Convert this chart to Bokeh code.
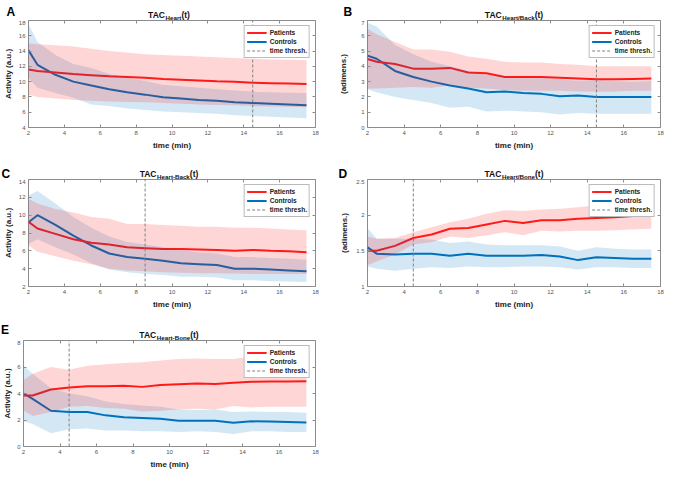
from bokeh.plotting import figure
from bokeh.models import (Range1d, FixedTicker, LinearAxis, Label, Legend, LegendItem,
                          CustomJSTickFormatter)
from bokeh.layouts import column, row
from bokeh.embed import file_html
from bokeh.resources import INLINE

# ---------------- data ----------------
time_min = [2, 2.5, 3.5, 4.5, 5.5, 6.5, 7.5, 8.5, 9.5, 10.5, 11.5, 12.5, 13.5, 14.5, 15.5, 16.5, 17.5]
x_ticks = [2, 4, 6, 8, 10, 12, 14, 16, 18]

# Panel A: TAC Heart
a_pat_mean = [11.6, 11.4, 11.2, 11.0, 10.85, 10.7, 10.6, 10.5, 10.35, 10.25, 10.15, 10.05, 10.0, 9.85, 9.8, 9.75, 9.7]
a_pat_up = [15.0, 14.9, 14.75, 14.6, 14.3, 14.0, 13.8, 13.6, 13.5, 13.4, 13.3, 13.2, 13.1, 13.0, 12.9, 12.85, 12.8]
a_pat_lo = [8.3, 8.0, 7.8, 7.6, 7.5, 7.4, 7.35, 7.3, 7.2, 7.1, 7.0, 6.95, 6.9, 6.8, 6.75, 6.7, 6.65]
a_con_mean = [14.1, 12.2, 10.9, 10.0, 9.5, 9.0, 8.6, 8.3, 7.95, 7.8, 7.6, 7.5, 7.3, 7.2, 7.1, 7.0, 6.9]
a_con_up = [17.5, 15.2, 13.5, 12.3, 11.8, 11.0, 10.5, 10.1, 9.6, 9.4, 9.2, 9.0, 8.85, 8.7, 8.6, 8.55, 8.5]
a_con_lo = [10.5, 9.2, 8.5, 7.9, 7.0, 6.8, 6.5, 6.3, 6.1, 6.0, 5.9, 5.8, 5.6, 5.5, 5.4, 5.3, 5.2]
a_thresh = 14.5
a_y_ticks = [4, 6, 8, 10, 12, 14, 16, 18]
a_y_labels = ["4", "6", "8", "10", "12", "14", "16", "18"]

# Panel B: TAC Heart/Back
b_pat_mean = [4.48, 4.3, 4.15, 3.85, 3.85, 3.9, 3.6, 3.55, 3.3, 3.3, 3.3, 3.25, 3.2, 3.15, 3.15, 3.18, 3.2]
b_pat_up = [6.45, 6.1, 5.6, 5.1, 5.1, 4.95, 4.65, 4.5, 4.3, 4.25, 4.25, 4.15, 4.1, 4.0, 4.0, 4.0, 4.0]
b_pat_lo = [2.55, 2.55, 2.6, 2.65, 2.6, 2.75, 2.6, 2.55, 2.45, 2.4, 2.4, 2.4, 2.35, 2.35, 2.35, 2.4, 2.4]
b_con_mean = [4.7, 4.5, 3.7, 3.3, 3.0, 2.75, 2.55, 2.3, 2.35, 2.25, 2.2, 2.05, 2.1, 2.0, 2.0, 2.0, 2.0]
b_con_up = [6.85, 6.6, 5.4, 4.8, 4.3, 4.0, 3.7, 3.45, 3.35, 3.3, 3.25, 3.15, 3.05, 3.1, 3.05, 3.0, 3.05]
b_con_lo = [2.5, 2.3, 2.0, 1.8, 1.6, 1.3, 1.35, 1.05, 1.1, 1.05, 1.0, 0.85, 0.95, 0.9, 0.9, 0.9, 0.9]
b_thresh = 14.5
b_y_ticks = [0, 1, 2, 3, 4, 5, 6, 7]
b_y_labels = ["0", "1", "2", "3", "4", "5", "6", "7"]

# Panel C: TAC Heart-Back
c_pat_mean = [9.25, 8.5, 7.9, 7.3, 6.9, 6.7, 6.4, 6.3, 6.2, 6.2, 6.15, 6.1, 6.0, 6.1, 6.0, 5.95, 5.85]
c_pat_up = [11.8, 11.3, 10.7, 10.3, 9.8, 9.6, 9.0, 9.0, 8.9, 8.8, 8.7, 8.7, 8.6, 8.6, 8.5, 8.4, 8.3]
c_pat_lo = [6.6, 5.9, 5.4, 4.9, 4.5, 4.0, 3.8, 3.7, 3.6, 3.55, 3.5, 3.5, 3.45, 3.4, 3.4, 3.4, 3.4]
c_con_mean = [9.2, 10.0, 8.9, 7.7, 6.6, 5.7, 5.3, 5.1, 4.9, 4.6, 4.5, 4.4, 4.0, 4.0, 3.9, 3.8, 3.7]
c_con_up = [12.2, 12.7, 11.3, 9.8, 8.6, 7.6, 7.0, 6.7, 6.4, 6.1, 5.8, 5.7, 5.3, 5.3, 5.2, 5.1, 5.0]
c_con_lo = [6.8, 7.3, 6.4, 5.6, 4.6, 3.9, 3.6, 3.4, 3.3, 3.1, 3.1, 3.0, 2.7, 2.7, 2.6, 2.55, 2.5]
c_thresh = 8.5
c_y_ticks = [2, 4, 6, 8, 10, 12, 14]
c_y_labels = ["2", "4", "6", "8", "10", "12", "14"]

# Panel D: TAC Heart/Bone
d_pat_mean = [1.5, 1.5, 1.57, 1.68, 1.73, 1.81, 1.82, 1.87, 1.92, 1.89, 1.93, 1.93, 1.95, 1.96, 1.97, 1.99, 2.01]
d_pat_up = [1.7, 1.67, 1.68, 1.76, 1.83, 1.9, 1.95, 2.02, 2.07, 2.06, 2.08, 2.09, 2.11, 2.14, 2.15, 2.17, 2.2]
d_pat_lo = [1.3, 1.35, 1.45, 1.59, 1.62, 1.7, 1.68, 1.72, 1.76, 1.72, 1.78, 1.77, 1.78, 1.78, 1.79, 1.8, 1.81]
d_con_mean = [1.55, 1.46, 1.45, 1.46, 1.46, 1.43, 1.46, 1.43, 1.43, 1.43, 1.44, 1.42, 1.37, 1.41, 1.4, 1.39, 1.39]
d_con_up = [1.82, 1.67, 1.67, 1.67, 1.66, 1.61, 1.63, 1.59, 1.58, 1.58, 1.58, 1.56, 1.5, 1.55, 1.53, 1.52, 1.52]
d_con_lo = [1.28, 1.25, 1.22, 1.25, 1.27, 1.26, 1.28, 1.27, 1.27, 1.28, 1.28, 1.27, 1.24, 1.27, 1.27, 1.26, 1.26]
d_thresh = 4.5
d_y_ticks = [1, 1.5, 2, 2.5]
d_y_labels = ["1", "1.5", "2", "2.5"]

# Panel E: TAC Heart-Bone
e_pat_mean = [3.85, 3.85, 4.3, 4.45, 4.55, 4.55, 4.58, 4.5, 4.65, 4.7, 4.75, 4.72, 4.82, 4.88, 4.9, 4.9, 4.92]
e_pat_up = [5.0, 5.5, 6.0, 5.8, 6.1, 6.2, 6.3, 6.35, 6.5, 6.6, 6.65, 6.6, 6.6, 6.8, 6.8, 6.85, 6.85]
e_pat_lo = [2.7, 2.3, 2.6, 3.0, 3.05, 2.9, 2.85, 2.65, 2.7, 2.8, 2.85, 2.8, 3.05, 2.95, 3.0, 3.0, 3.0]
e_con_mean = [4.0, 3.6, 2.7, 2.6, 2.6, 2.35, 2.2, 2.15, 2.1, 1.95, 1.95, 1.95, 1.8, 1.9, 1.88, 1.85, 1.82]
e_con_up = [6.1, 5.5, 4.4, 4.0, 3.8, 3.4, 3.2, 3.1, 3.0, 2.8, 2.75, 2.8, 2.6, 2.65, 2.6, 2.6, 2.55]
e_con_lo = [1.9, 1.7, 1.0, 1.3, 1.35, 1.2, 1.2, 1.15, 1.15, 1.1, 1.15, 1.1, 0.95, 1.15, 1.15, 1.1, 1.1]
e_thresh = 4.5
e_y_ticks = [0, 2, 4, 6, 8]
e_y_labels = ["0", "2", "4", "6", "8"]

series_names = ["Patients", "Controls", "time thresh."]
x_label = "time (min)"

# ---------------- styling ----------------
FONT = "Liberation Sans"
RED = "#ff1f1f"
BLUE = "#0072BD"
BOXC = "#8c8c8c"
FRAME_W = 293
FRAME_H = 107

# Arial/Liberation Sans Bold advance widths (per 1000 em)
_W = {"T": 611, "A": 722, "C": 722, "H": 722, "e": 556, "a": 556, "r": 389, "t": 333,
      "/": 278, "-": 333, "B": 722, "c": 556, "k": 556, "o": 611, "n": 611, "(": 333, ")": 333}


def tw(s, size):
    return sum(_W.get(ch, 556) for ch in s) / 1000.0 * size


def strip(width, height, letter, letter_x, letter_y, sub, center_x):
    """Header strip holding the panel letter and the TAC_sub(t) title."""
    s = figure(width=width, height=height, output_backend="svg", toolbar_location=None,
               title=None, x_axis_type=None, y_axis_type=None,
               x_range=Range1d(0, width), y_range=Range1d(0, height),
               min_border=0, min_border_left=0, min_border_right=0,
               min_border_top=0, min_border_bottom=0)
    s.grid.visible = False
    s.outline_line_color = None
    s.background_fill_color = "white"
    s.border_fill_color = "white"
    common = dict(text_font=FONT, text_font_style="bold", text_align="left",
                  text_baseline="alphabetic")
    big, small = 8.5, 6.2
    total = tw("TAC", big) + tw(sub, small) + tw("(t)", big)
    x0 = center_x - total / 2.0
    s.add_layout(Label(x=x0, y=6, text="TAC", text_font_size=f"{big}px",
                       text_color="#111111", **common))
    s.add_layout(Label(x=x0 + tw("TAC", big), y=3.3, text=sub, text_font_size=f"{small}px",
                       text_color="#111111", **common))
    s.add_layout(Label(x=x0 + tw("TAC", big) + tw(sub, small), y=6, text="(t)",
                       text_font_size=f"{big}px", text_color="#111111", **common))
    s.add_layout(Label(x=letter_x, y=letter_y, text=letter, text_font_size="12px",
                       text_color="black", **common))
    return s


def panel(ylabel, pat, con, thresh, yticks, ylabels, bl, br, bt, bb, ylab_standoff):
    ymin, ymax = yticks[0], yticks[-1]
    width = bl + FRAME_W + br
    height = bt + FRAME_H + bb
    p = figure(width=width, height=height, output_backend="svg", toolbar_location=None,
               title=None,
               x_range=Range1d(x_ticks[0], x_ticks[-1]), y_range=Range1d(ymin, ymax),
               min_border_left=bl, min_border_right=br, min_border_top=bt, min_border_bottom=bb)
    p.grid.visible = False
    p.outline_line_color = BOXC
    p.outline_line_width = 1
    p.background_fill_color = "white"
    p.border_fill_color = "white"

    for ax, ticks, labels in ((p.xaxis[0], x_ticks, [str(t) for t in x_ticks]),
                              (p.yaxis[0], yticks, ylabels)):
        ax.ticker = FixedTicker(ticks=ticks)
        ax.major_label_overrides = {t: l for t, l in zip(ticks, labels)}
        ax.major_tick_in = 3
        ax.major_tick_out = 0
        ax.minor_tick_line_color = None
        ax.axis_line_color = None
        ax.major_tick_line_color = BOXC
        ax.major_label_text_font = FONT
        ax.major_label_text_font_size = "6px"
        ax.major_label_text_color = "#555555"
        ax.major_label_standoff = 3
        ax.axis_label_text_font = FONT
        ax.axis_label_text_font_size = "8px"
        ax.axis_label_text_font_style = "bold"
        ax.axis_label_text_color = "#222222"
        ax.axis_label_standoff = 3
    p.xaxis[0].axis_label = x_label
    p.yaxis[0].axis_label = ylabel
    p.yaxis[0].axis_label_standoff = ylab_standoff

    # box ticks on top and right (no labels)
    for loc, ticks in (("above", x_ticks), ("right", yticks)):
        ax = LinearAxis(ticker=FixedTicker(ticks=ticks),
                        formatter=CustomJSTickFormatter(code="return ''"),
                        major_tick_in=3, major_tick_out=0, minor_tick_line_color=None,
                        axis_line_color=None, major_tick_line_color=BOXC,
                        major_label_standoff=0, major_label_text_font_size="0px")
        p.add_layout(ax, loc)

    pm, pu, plo = pat
    cm, cu, clo = con
    l_con = p.line(time_min, cm, line_color=BLUE, line_width=2)
    l_pat = p.line(time_min, pm, line_color=RED, line_width=2)
    p.varea(x=time_min, y1=clo, y2=cu, fill_color=BLUE, fill_alpha=0.17)
    p.varea(x=time_min, y1=plo, y2=pu, fill_color="#ff0000", fill_alpha=0.16)
    l_thr = p.segment(x0=[thresh], y0=[ymin], x1=[thresh], y1=[ymax], line_color="#808080",
                      line_width=1, line_dash="3 2")

    legend = Legend(items=[LegendItem(label=series_names[0], renderers=[l_pat]),
                           LegendItem(label=series_names[1], renderers=[l_con]),
                           LegendItem(label=series_names[2], renderers=[l_thr])],
                    location="top_right", margin=5, padding=2, spacing=0,
                    glyph_width=20, glyph_height=9, label_height=9, label_standoff=3,
                    label_text_font=FONT, label_text_font_size="6.6px",
                    label_text_font_style="bold", label_text_color="#222222",
                    border_line_color="#777777", border_line_width=1,
                    background_fill_color="white", background_fill_alpha=1.0)
    p.add_layout(legend)
    return p


# geometry: left column figures (border 22/16), right column (border 36/6)
L_BL, L_BR = 22, 16
R_BL, R_BR = 36, 6
L_W = L_BL + FRAME_W + L_BR
R_W = R_BL + FRAME_W + R_BR

pA = panel("Activity (a.u.)", (a_pat_mean, a_pat_up, a_pat_lo), (a_con_mean, a_con_up, a_con_lo),
           a_thresh, a_y_ticks, a_y_labels, L_BL, L_BR, 0, 28, 3)
pB = panel("(adimens.)", (b_pat_mean, b_pat_up, b_pat_lo), (b_con_mean, b_con_up, b_con_lo),
           b_thresh, b_y_ticks, b_y_labels, R_BL, R_BR, 0, 28, 10)
pC = panel("Activity (a.u.)", (c_pat_mean, c_pat_up, c_pat_lo), (c_con_mean, c_con_up, c_con_lo),
           c_thresh, c_y_ticks, c_y_labels, L_BL, L_BR, 0, 28, 3)
pD = panel("(adimens.)", (d_pat_mean, d_pat_up, d_pat_lo), (d_con_mean, d_con_up, d_con_lo),
           d_thresh, d_y_ticks, d_y_labels, R_BL, R_BR, 0, 28, 4)
pE = panel("Activity (a.u.)", (e_pat_mean, e_pat_up, e_pat_lo), (e_con_mean, e_con_up, e_con_lo),
           e_thresh, e_y_ticks, e_y_labels, L_BL, L_BR, 0, 24, 2)

sA = strip(L_W, 20, "A", 6, 8.4, "Heart", L_BL + FRAME_W / 2)
sB = strip(R_W, 20, "B", 12, 8.4, "Heart/Back", R_BL + FRAME_W / 2)
sC = strip(L_W, 24, "C", 1, 6, "Heart-Back", L_BL + FRAME_W / 2)
sD = strip(R_W, 24, "D", 7, 6, "Heart/Bone", R_BL + FRAME_W / 2)
sE = strip(L_W, 26, "E", 0.5, 10.5, "Heart-Bone", L_BL + FRAME_W / 2)

layout = column(row(sA, sB), row(pA, pB), row(sC, sD), row(pC, pD), row(sE), row(pE))

open("out.html", "w").write(file_html(layout, INLINE))
